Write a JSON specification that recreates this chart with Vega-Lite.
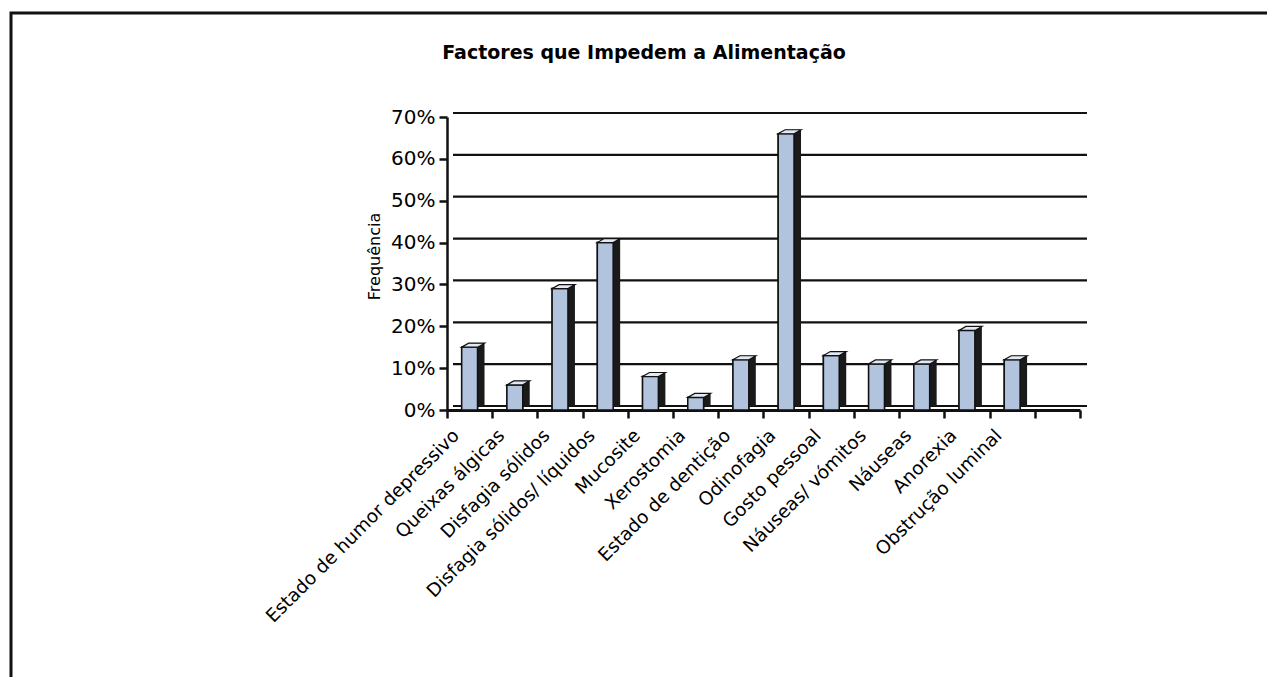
{
  "$schema": "https://vega.github.io/schema/vega-lite/v6.json",
  "width": 1266,
  "height": 674,
  "autosize": {"type": "none"},
  "padding": {"left": 11, "top": 13, "right": -10, "bottom": -10},
  "background": "white",
  "config": {
    "view": {"stroke": "#111", "strokeWidth": 3},
    "font": "DejaVu Sans"
  },
  "title": {
    "text": "Factores que Impedem a Alimentação",
    "font": "DejaVu Sans",
    "fontSize": 19,
    "fontWeight": "bold",
    "color": "#000",
    "anchor": "middle",
    "frame": "group",
    "baseline": "alphabetic",
    "offset": -65
  },
  "datasets": {
    "factores": [
      {"categoria": "Estado de humor depressivo", "valor": 0.15},
      {"categoria": "Queixas álgicas", "valor": 0.06},
      {"categoria": "Disfagia sólidos", "valor": 0.29},
      {"categoria": "Disfagia sólidos/ líquidos", "valor": 0.40},
      {"categoria": "Mucosite", "valor": 0.08},
      {"categoria": "Xerostomia", "valor": 0.03},
      {"categoria": "Estado de dentição", "valor": 0.12},
      {"categoria": "Odinofagia", "valor": 0.66},
      {"categoria": "Gosto pessoal", "valor": 0.13},
      {"categoria": "Náuseas/ vómitos", "valor": 0.11},
      {"categoria": "Náuseas", "valor": 0.11},
      {"categoria": "Anorexia", "valor": 0.19},
      {"categoria": "Obstrução luminal", "valor": 0.12}
    ],
    "grelha": [
      {"nivel": 0}, {"nivel": 0.1}, {"nivel": 0.2}, {"nivel": 0.3},
      {"nivel": 0.4}, {"nivel": 0.5}, {"nivel": 0.6}, {"nivel": 0.7}
    ]
  },
  "layer": [
    {
      "data": {"name": "factores"},
      "mark": {"type": "bar", "fill": "#b2c3de", "stroke": "#111", "strokeWidth": 1.5, "width": {"band": 0.35}},
      "encoding": {
        "x": {"field": "categoria", "type": "nominal", "sort": null,
              "scale": {"domain": ["Estado de humor depressivo", "Queixas álgicas", "Disfagia sólidos", "Disfagia sólidos/ líquidos", "Mucosite", "Xerostomia", "Estado de dentição", "Odinofagia", "Gosto pessoal", "Náuseas/ vómitos", "Náuseas", "Anorexia", "Obstrução luminal", " "],
                        "range": [436, 1069], "paddingInner": 0, "paddingOuter": 0},
              "axis": {"orient": "bottom", "offset": -277, "title": null, "labelAngle": -45,
                       "labelFont": "DejaVu Sans", "labelFontSize": 18.5, "labelColor": "#000",
                       "labelAlign": "right", "labelBaseline": "middle", "labelPadding": 14, "labelOffset": -14,
                       "labelOverlap": false, "labelLimit": 0, "labelBound": false,
                       "tickBand": "extent", "tickSize": 8, "tickWidth": 2.5, "tickColor": "#111",
                       "domainColor": "#111", "domainWidth": 3, "grid": false}},
        "y": {"field": "valor", "type": "quantitative",
              "scale": {"domain": [0, 0.7], "range": [397, 104], "nice": false, "zero": true},
              "axis": {"orient": "left", "offset": -436, "format": ".0%",
                       "values": [0, 0.1, 0.2, 0.3, 0.4, 0.5, 0.6, 0.7],
                       "title": "Frequência", "titleFont": "DejaVu Sans", "titleFontSize": 16,
                       "titleFontWeight": "normal", "titleColor": "#000", "titlePadding": 8, "titleY": 243,
                       "labelFont": "DejaVu Sans", "labelFontSize": 20, "labelColor": "#000", "labelPadding": 4,
                       "tickSize": 8, "tickWidth": 2.5, "tickColor": "#111",
                       "domainColor": "#111", "domainWidth": 2.5, "grid": false}}
      }
    },
    {
      "data": {"name": "grelha"},
      "mark": {"type": "rule", "color": "#111", "strokeWidth": 2.2, "xOffset": -16.6, "x2Offset": 29.6, "yOffset": -4},
      "encoding": {
        "x": {"datum": "Estado de humor depressivo", "type": "nominal"},
        "x2": {"datum": " "},
        "y": {"field": "nivel", "type": "quantitative"}
      }
    },
    {
      "data": {"name": "factores"},
      "mark": {"type": "bar", "color": "#1a1a1a", "width": {"band": 0.35}, "xOffset": 7, "yOffset": -4, "y2Offset": -4},
      "encoding": {
        "x": {"field": "categoria", "type": "nominal", "sort": null},
        "y": {"field": "valor", "type": "quantitative"}
      }
    },
    {
      "data": {"name": "factores"},
      "mark": {"type": "bar", "fill": "#b2c3de", "stroke": "#111", "strokeWidth": 1.5, "width": {"band": 0.35}},
      "encoding": {
        "x": {"field": "categoria", "type": "nominal", "sort": null},
        "y": {"field": "valor", "type": "quantitative"}
      }
    },
    {
      "data": {"name": "factores"},
      "mark": {"type": "point", "shape": "M-8,0L8,0L15,-4L-1,-4Z", "size": 4, "filled": true,
               "fill": "#e2e9f4", "stroke": "#111", "strokeWidth": 1.2, "opacity": 1},
      "encoding": {
        "x": {"field": "categoria", "type": "nominal", "sort": null},
        "y": {"field": "valor", "type": "quantitative"}
      }
    }
  ]
}
